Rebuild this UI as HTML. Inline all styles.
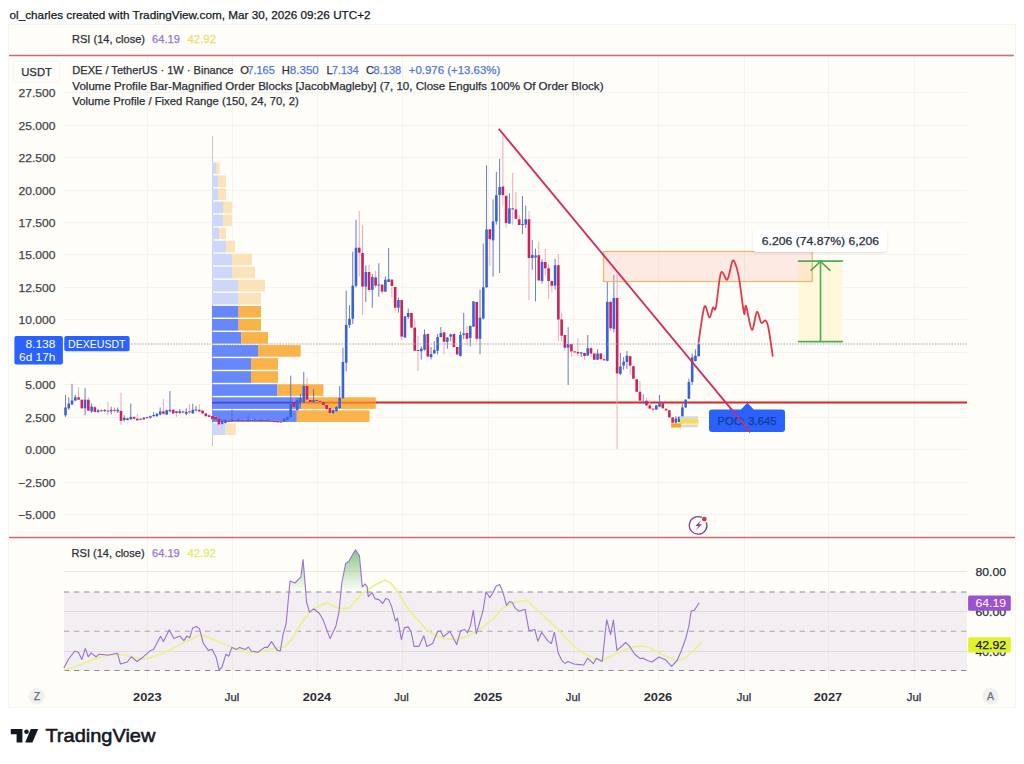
<!DOCTYPE html>
<html><head><meta charset="utf-8"><title>DEXE / TetherUS chart</title>
<style>
html,body{margin:0;padding:0;width:1024px;height:764px;overflow:hidden;background:#ffffff}
svg{display:block}
text{font-family:"Liberation Sans",Arial,sans-serif;paint-order:stroke}
</style></head><body>
<svg width="1024" height="764" viewBox="0 0 1024 764">
<rect x="8" y="24" width="1008" height="684" fill="#fefdf7"/>
<rect x="8.5" y="24.5" width="1007" height="683" fill="none" stroke="#f4f4f0" stroke-width="1"/>
<line x1="64" y1="92.5" x2="967" y2="92.5" stroke="#f4f3ed" stroke-width="1"/>
<line x1="64" y1="125.5" x2="967" y2="125.5" stroke="#f4f3ed" stroke-width="1"/>
<line x1="64" y1="157.5" x2="967" y2="157.5" stroke="#f4f3ed" stroke-width="1"/>
<line x1="64" y1="190.5" x2="967" y2="190.5" stroke="#f4f3ed" stroke-width="1"/>
<line x1="64" y1="222.5" x2="967" y2="222.5" stroke="#f4f3ed" stroke-width="1"/>
<line x1="64" y1="254.5" x2="967" y2="254.5" stroke="#f4f3ed" stroke-width="1"/>
<line x1="64" y1="287.5" x2="967" y2="287.5" stroke="#f4f3ed" stroke-width="1"/>
<line x1="64" y1="319.5" x2="967" y2="319.5" stroke="#f4f3ed" stroke-width="1"/>
<line x1="64" y1="352.5" x2="967" y2="352.5" stroke="#f4f3ed" stroke-width="1"/>
<line x1="64" y1="384.5" x2="967" y2="384.5" stroke="#f4f3ed" stroke-width="1"/>
<line x1="64" y1="417.5" x2="967" y2="417.5" stroke="#f4f3ed" stroke-width="1"/>
<line x1="64" y1="449.5" x2="967" y2="449.5" stroke="#f4f3ed" stroke-width="1"/>
<line x1="64" y1="482.5" x2="967" y2="482.5" stroke="#f4f3ed" stroke-width="1"/>
<line x1="64" y1="514.5" x2="967" y2="514.5" stroke="#f4f3ed" stroke-width="1"/>
<line x1="147.5" y1="56" x2="147.5" y2="537" stroke="#f4f3ed" stroke-width="1"/>
<line x1="147.5" y1="538" x2="147.5" y2="681" stroke="#f4f3ed" stroke-width="1"/>
<line x1="232.5" y1="56" x2="232.5" y2="537" stroke="#f4f3ed" stroke-width="1"/>
<line x1="232.5" y1="538" x2="232.5" y2="681" stroke="#f4f3ed" stroke-width="1"/>
<line x1="317.5" y1="56" x2="317.5" y2="537" stroke="#f4f3ed" stroke-width="1"/>
<line x1="317.5" y1="538" x2="317.5" y2="681" stroke="#f4f3ed" stroke-width="1"/>
<line x1="402.5" y1="56" x2="402.5" y2="537" stroke="#f4f3ed" stroke-width="1"/>
<line x1="402.5" y1="538" x2="402.5" y2="681" stroke="#f4f3ed" stroke-width="1"/>
<line x1="488.5" y1="56" x2="488.5" y2="537" stroke="#f4f3ed" stroke-width="1"/>
<line x1="488.5" y1="538" x2="488.5" y2="681" stroke="#f4f3ed" stroke-width="1"/>
<line x1="573.5" y1="56" x2="573.5" y2="537" stroke="#f4f3ed" stroke-width="1"/>
<line x1="573.5" y1="538" x2="573.5" y2="681" stroke="#f4f3ed" stroke-width="1"/>
<line x1="658.5" y1="56" x2="658.5" y2="537" stroke="#f4f3ed" stroke-width="1"/>
<line x1="658.5" y1="538" x2="658.5" y2="681" stroke="#f4f3ed" stroke-width="1"/>
<line x1="744.5" y1="56" x2="744.5" y2="537" stroke="#f4f3ed" stroke-width="1"/>
<line x1="744.5" y1="538" x2="744.5" y2="681" stroke="#f4f3ed" stroke-width="1"/>
<line x1="828.5" y1="56" x2="828.5" y2="537" stroke="#f4f3ed" stroke-width="1"/>
<line x1="828.5" y1="538" x2="828.5" y2="681" stroke="#f4f3ed" stroke-width="1"/>
<line x1="914.5" y1="56" x2="914.5" y2="537" stroke="#f4f3ed" stroke-width="1"/>
<line x1="914.5" y1="538" x2="914.5" y2="681" stroke="#f4f3ed" stroke-width="1"/>
<line x1="64" y1="571.5" x2="967" y2="571.5" stroke="#ebeae4" stroke-width="1"/>
<line x1="64" y1="611.5" x2="967" y2="611.5" stroke="#ebeae4" stroke-width="1"/>
<line x1="64" y1="651.5" x2="967" y2="651.5" stroke="#ebeae4" stroke-width="1"/>
<rect x="64" y="592" width="903" height="78.5" fill="#7e57c2" fill-opacity="0.09"/>
<line x1="63.9" y1="592" x2="967" y2="592" stroke="#8e8a92" stroke-width="1.1" stroke-dasharray="5.3 4.78"/>
<line x1="63.9" y1="631.2" x2="967" y2="631.2" stroke="#a9a5ad" stroke-width="1.1" stroke-dasharray="5.3 4.78"/>
<line x1="63.9" y1="670.5" x2="967" y2="670.5" stroke="#8e8a92" stroke-width="1.1" stroke-dasharray="5.3 4.78"/>
<defs><linearGradient id="gfill" x1="0" y1="531" x2="0" y2="592" gradientUnits="userSpaceOnUse"><stop offset="0" stop-color="#3d9a46" stop-opacity="0.9"/><stop offset="1" stop-color="#4caf50" stop-opacity="0"/></linearGradient><clipPath id="above70"><rect x="64" y="500" width="903" height="91.8"/></clipPath></defs>
<polygon points="63.8,591.8 63.8,668 68.7,659 74.5,651.3 78.4,652.3 81.8,659.5 85.3,648.4 88.2,656.8 91.1,652.9 96,656.8 99,654.3 104.8,654.8 107.7,655.2 117.5,653.3 120.4,664 127.3,662 131.2,656.8 137,661.5 142.9,657.2 150.7,650.4 153.6,649.4 160.5,636.3 163.4,641.6 169.3,629.8 173.8,638.6 180,636.1 183.9,640.6 186.8,636.1 189.8,637.7 192.7,627.9 196.6,626.5 199.5,628.9 203.4,643.5 208.3,650.4 212.2,649.4 216.1,657.2 219.1,669.9 222,667 225.9,654.3 228.8,656.2 231.8,647.4 236.6,649.4 239.6,647.4 245.4,649.4 248.4,647 251.3,651.3 253.9,651.3 257.8,652.3 264.6,647.4 267.6,647.4 271.5,641.6 277.3,650.4 280.3,651 283.2,633.8 286.1,624 290,581 294.9,583 300.8,577.1 303.1,559.5 306.6,602.5 309.6,612.3 313.5,608.8 319.3,613.2 323.2,620.1 330.1,638.6 335.9,625.9 338.9,612.3 341.8,583 345.7,563.4 348.6,561.5 355.5,549.8 359.4,555.6 362.3,586.9 365.2,584 367.2,586.9 368.2,596.6 372.1,592.7 375,598.6 378.9,599.6 382.8,603.5 385.7,598.6 388.7,599.6 391.6,606.4 395.5,621.1 397.5,618.1 401.4,639.6 404.3,627.9 408.2,626.9 411.1,631.8 414.1,646.4 418.9,646.4 423.8,635.7 426.8,646.4 432.6,643.5 437.5,631.8 440.4,630.8 443.4,636.7 449.9,631.4 456.7,644.5 460.6,630.8 464.5,629.5 467.5,632.8 470.4,625.9 473.3,610.3 476.3,633.8 483.1,610.3 486,591.8 489.9,597.6 492.9,592.7 496.2,585.9 499.7,584.5 502.6,591.2 506.5,605.4 509.5,601.5 512.4,602.5 515.3,608.4 519.2,611.3 525.1,609.3 529,630.8 534.8,629.5 537.8,641.2 541.7,632.2 547.5,640.6 551.4,643.5 554.4,632.2 558.3,653.3 562.2,661.1 565.1,663.4 568,661.5 573.9,664 579.8,664.6 583.7,665 587.6,658.2 593.4,663.6 596.4,658.2 602.2,661.5 606.7,619.7 610.6,634.7 613.4,620.1 616.9,650.4 620.8,647 625.7,642.5 629.6,646.4 634.7,654.2 640.2,658.6 642.6,658.1 647.3,660.5 652,662 655.1,659.7 659,657 661.4,658.1 665.3,659.7 671.6,666.4 677.1,660.5 681.8,649.5 685.7,638.5 688.9,625.9 691.2,611 694.4,610.2 699.1,602.7 699.1,591.8" fill="url(#gfill)" clip-path="url(#above70)"/>
<polyline points="63.8,669.9 74.5,667 94,659.1 109.7,654.3 123.4,654.8 140.9,658.8 148.8,658.2 164.4,652.9 182,643.5 200.5,634.7 211.3,638.6 230.8,647 242.5,650.4 250.3,652.9 261.7,651.3 273.4,648.4 285.2,646.4 293,637.7 300.8,624 308.6,613.2 318.4,606.4 327.1,602.9 334,606.4 339.8,608.4 349.6,608 355.5,600.5 363.3,592.7 375,584.9 384.8,580 390.6,583 398.4,592.7 406.3,606.4 416,618.1 425.8,628.9 435.5,635.7 445.3,638.6 456.7,639.6 468.4,635.7 480.2,628.9 491.9,620.1 503.6,607.4 515.3,602.1 527,600.5 536.8,609.3 550.5,622 562.2,633.8 573.9,646.4 585.6,654.3 595.4,658.8 601.3,660.7 611,656.2 620.8,651.3 632.5,647 642.6,646 650.4,647.9 656.7,651.8 666.1,656.5 677.1,660.5 684.2,658.9 692.8,651.1 701.4,642.4" fill="none" stroke="#ecf095" stroke-width="1.8" stroke-linejoin="round"/>
<polyline points="63.8,668 68.7,659 74.5,651.3 78.4,652.3 81.8,659.5 85.3,648.4 88.2,656.8 91.1,652.9 96,656.8 99,654.3 104.8,654.8 107.7,655.2 117.5,653.3 120.4,664 127.3,662 131.2,656.8 137,661.5 142.9,657.2 150.7,650.4 153.6,649.4 160.5,636.3 163.4,641.6 169.3,629.8 173.8,638.6 180,636.1 183.9,640.6 186.8,636.1 189.8,637.7 192.7,627.9 196.6,626.5 199.5,628.9 203.4,643.5 208.3,650.4 212.2,649.4 216.1,657.2 219.1,669.9 222,667 225.9,654.3 228.8,656.2 231.8,647.4 236.6,649.4 239.6,647.4 245.4,649.4 248.4,647 251.3,651.3 253.9,651.3 257.8,652.3 264.6,647.4 267.6,647.4 271.5,641.6 277.3,650.4 280.3,651 283.2,633.8 286.1,624 290,581 294.9,583 300.8,577.1 303.1,559.5 306.6,602.5 309.6,612.3 313.5,608.8 319.3,613.2 323.2,620.1 330.1,638.6 335.9,625.9 338.9,612.3 341.8,583 345.7,563.4 348.6,561.5 355.5,549.8 359.4,555.6 362.3,586.9 365.2,584 367.2,586.9 368.2,596.6 372.1,592.7 375,598.6 378.9,599.6 382.8,603.5 385.7,598.6 388.7,599.6 391.6,606.4 395.5,621.1 397.5,618.1 401.4,639.6 404.3,627.9 408.2,626.9 411.1,631.8 414.1,646.4 418.9,646.4 423.8,635.7 426.8,646.4 432.6,643.5 437.5,631.8 440.4,630.8 443.4,636.7 449.9,631.4 456.7,644.5 460.6,630.8 464.5,629.5 467.5,632.8 470.4,625.9 473.3,610.3 476.3,633.8 483.1,610.3 486,591.8 489.9,597.6 492.9,592.7 496.2,585.9 499.7,584.5 502.6,591.2 506.5,605.4 509.5,601.5 512.4,602.5 515.3,608.4 519.2,611.3 525.1,609.3 529,630.8 534.8,629.5 537.8,641.2 541.7,632.2 547.5,640.6 551.4,643.5 554.4,632.2 558.3,653.3 562.2,661.1 565.1,663.4 568,661.5 573.9,664 579.8,664.6 583.7,665 587.6,658.2 593.4,663.6 596.4,658.2 602.2,661.5 606.7,619.7 610.6,634.7 613.4,620.1 616.9,650.4 620.8,647 625.7,642.5 629.6,646.4 634.7,654.2 640.2,658.6 642.6,658.1 647.3,660.5 652,662 655.1,659.7 659,657 661.4,658.1 665.3,659.7 671.6,666.4 677.1,660.5 681.8,649.5 685.7,638.5 688.9,625.9 691.2,611 694.4,610.2 699.1,602.7" fill="none" stroke="#9a72cf" stroke-width="1.1" stroke-linejoin="round"/>
<line x1="9" y1="55.5" x2="1013" y2="55.5" stroke="#d06a76" stroke-width="1.3"/>
<line x1="1008" y1="55.5" x2="1014" y2="55.5" stroke="#9a8a8c" stroke-width="1.3"/>
<line x1="9" y1="537.5" x2="1015" y2="537.5" stroke="#d06a76" stroke-width="1.3"/>
<line x1="212.5" y1="136" x2="212.5" y2="446" stroke="#c9c9c9" stroke-width="1"/>
<line x1="212" y1="402.6" x2="967" y2="402.6" stroke="#e02323" stroke-width="2"/>
<rect x="212" y="162.40" width="4.00" height="11.6" fill="#cdd7fa"/>
<rect x="216.00" y="162.40" width="3.60" height="11.6" fill="#fce2b9"/>
<rect x="212" y="175.45" width="6.00" height="11.6" fill="#cdd7fa"/>
<rect x="218.00" y="175.45" width="8.00" height="11.6" fill="#fce2b9"/>
<rect x="212" y="188.50" width="6.00" height="11.6" fill="#cdd7fa"/>
<rect x="218.00" y="188.50" width="8.00" height="11.6" fill="#fce2b9"/>
<rect x="212" y="201.55" width="11.00" height="11.6" fill="#cdd7fa"/>
<rect x="223.00" y="201.55" width="9.00" height="11.6" fill="#fce2b9"/>
<rect x="212" y="214.60" width="11.00" height="11.6" fill="#cdd7fa"/>
<rect x="223.00" y="214.60" width="9.00" height="11.6" fill="#fce2b9"/>
<rect x="212" y="227.65" width="7.00" height="11.6" fill="#cdd7fa"/>
<rect x="219.00" y="227.65" width="7.00" height="11.6" fill="#fce2b9"/>
<rect x="212" y="240.70" width="14.00" height="11.6" fill="#cdd7fa"/>
<rect x="226.00" y="240.70" width="9.00" height="11.6" fill="#fce2b9"/>
<rect x="212" y="253.75" width="20.00" height="11.6" fill="#cdd7fa"/>
<rect x="232.00" y="253.75" width="20.00" height="11.6" fill="#fce2b9"/>
<rect x="212" y="266.80" width="20.00" height="11.6" fill="#cdd7fa"/>
<rect x="232.00" y="266.80" width="23.00" height="11.6" fill="#fce2b9"/>
<rect x="212" y="279.85" width="26.00" height="11.6" fill="#cdd7fa"/>
<rect x="238.00" y="279.85" width="27.00" height="11.6" fill="#fce2b9"/>
<rect x="212" y="292.90" width="26.60" height="11.6" fill="#cdd7fa"/>
<rect x="238.60" y="292.90" width="22.40" height="11.6" fill="#fce2b9"/>
<rect x="212" y="305.95" width="26.60" height="11.6" fill="#6688fa"/>
<rect x="238.60" y="305.95" width="22.40" height="11.6" fill="#fab24b"/>
<rect x="212" y="319.00" width="26.60" height="11.6" fill="#6688fa"/>
<rect x="238.60" y="319.00" width="22.40" height="11.6" fill="#fab24b"/>
<rect x="212" y="332.05" width="29.30" height="11.6" fill="#6688fa"/>
<rect x="241.30" y="332.05" width="26.70" height="11.6" fill="#fab24b"/>
<rect x="212" y="345.10" width="46.00" height="11.6" fill="#6688fa"/>
<rect x="258.00" y="345.10" width="42.60" height="11.6" fill="#fab24b"/>
<rect x="212" y="358.15" width="39.00" height="11.6" fill="#6688fa"/>
<rect x="251.00" y="358.15" width="27.00" height="11.6" fill="#fab24b"/>
<rect x="212" y="371.20" width="39.00" height="11.6" fill="#6688fa"/>
<rect x="251.00" y="371.20" width="27.00" height="11.6" fill="#fab24b"/>
<rect x="212" y="384.25" width="65.50" height="11.6" fill="#6688fa"/>
<rect x="277.50" y="384.25" width="45.90" height="11.6" fill="#fab24b"/>
<rect x="212" y="397.30" width="89.00" height="11.6" fill="#6688fa"/>
<rect x="301.00" y="397.30" width="74.80" height="11.6" fill="#fab24b"/>
<rect x="212" y="410.35" width="84.80" height="11.6" fill="#6688fa"/>
<rect x="296.80" y="410.35" width="72.70" height="11.6" fill="#fab24b"/>
<rect x="212" y="423.40" width="13.60" height="11.6" fill="#cdd7fa"/>
<rect x="225.60" y="423.40" width="10.10" height="11.6" fill="#fce2b9"/>
<line x1="212" y1="402.6" x2="301" y2="402.6" stroke="#4a3fc4" stroke-width="1.6" opacity="0.85"/>
<line x1="301" y1="402.6" x2="376" y2="402.6" stroke="#ee6a2a" stroke-width="1.6" opacity="0.9"/>
<line x1="65.50" y1="395.0" x2="65.50" y2="416.9" stroke="#5a71b4" stroke-width="0.9"/>
<rect x="64.20" y="407.5" width="2.6" height="7.80" fill="#3862da"/>
<line x1="68.76" y1="397.3" x2="68.76" y2="409.8" stroke="#5a71b4" stroke-width="0.9"/>
<rect x="67.46" y="403.6" width="2.6" height="4.70" fill="#3862da"/>
<line x1="72.03" y1="383.75" x2="72.03" y2="405.2" stroke="#5a71b4" stroke-width="0.9"/>
<rect x="70.73" y="400.5" width="2.6" height="3.90" fill="#3862da"/>
<line x1="75.29" y1="395.0" x2="75.29" y2="401.3" stroke="#5a71b4" stroke-width="0.9"/>
<rect x="73.99" y="397.3" width="2.6" height="3.20" fill="#3862da"/>
<line x1="78.56" y1="387.2" x2="78.56" y2="399.7" stroke="#e9a3b9" stroke-width="0.9"/>
<rect x="77.26" y="397.3" width="2.6" height="2.40" fill="#cc215b"/>
<line x1="81.82" y1="399.7" x2="81.82" y2="409.0" stroke="#e9a3b9" stroke-width="0.9"/>
<rect x="80.52" y="399.7" width="2.6" height="8.60" fill="#cc215b"/>
<line x1="85.08" y1="388.0" x2="85.08" y2="415.3" stroke="#5a71b4" stroke-width="0.9"/>
<rect x="83.78" y="399.7" width="2.6" height="8.60" fill="#3862da"/>
<line x1="88.35" y1="397.3" x2="88.35" y2="411.4" stroke="#e9a3b9" stroke-width="0.9"/>
<rect x="87.05" y="399.7" width="2.6" height="10.90" fill="#cc215b"/>
<line x1="91.61" y1="403.6" x2="91.61" y2="413.0" stroke="#5a71b4" stroke-width="0.9"/>
<rect x="90.31" y="406.7" width="2.6" height="4.70" fill="#3862da"/>
<line x1="94.88" y1="406.0" x2="94.88" y2="412.5" stroke="#e9a3b9" stroke-width="0.9"/>
<rect x="93.58" y="407.2" width="2.6" height="4.70" fill="#cc215b"/>
<line x1="98.14" y1="409.0" x2="98.14" y2="413.0" stroke="#5a71b4" stroke-width="0.9"/>
<rect x="96.84" y="410.3" width="2.6" height="1.60" fill="#3862da"/>
<line x1="101.40" y1="409.5" x2="101.40" y2="412.0" stroke="#e9a3b9" stroke-width="0.9"/>
<rect x="100.10" y="410.3" width="2.6" height="1.00" fill="#cc215b"/>
<line x1="104.67" y1="409.0" x2="104.67" y2="412.0" stroke="#5a71b4" stroke-width="0.9"/>
<rect x="103.37" y="410.0" width="2.6" height="1.00" fill="#3862da"/>
<line x1="107.93" y1="402.0" x2="107.93" y2="415.3" stroke="#e9a3b9" stroke-width="0.9"/>
<rect x="106.63" y="410.6" width="2.6" height="1.00" fill="#cc215b"/>
<line x1="111.20" y1="406.7" x2="111.20" y2="414.5" stroke="#5a71b4" stroke-width="0.9"/>
<rect x="109.90" y="409.8" width="2.6" height="1.60" fill="#3862da"/>
<line x1="114.46" y1="407.5" x2="114.46" y2="413.0" stroke="#e9a3b9" stroke-width="0.9"/>
<rect x="113.16" y="409.8" width="2.6" height="1.00" fill="#cc215b"/>
<line x1="117.72" y1="407.5" x2="117.72" y2="413.0" stroke="#5a71b4" stroke-width="0.9"/>
<rect x="116.42" y="409.8" width="2.6" height="1.60" fill="#3862da"/>
<line x1="120.99" y1="392.7" x2="120.99" y2="424.7" stroke="#e9a3b9" stroke-width="0.9"/>
<rect x="119.69" y="410.9" width="2.6" height="9.90" fill="#cc215b"/>
<line x1="124.25" y1="415.3" x2="124.25" y2="421.6" stroke="#5a71b4" stroke-width="0.9"/>
<rect x="122.95" y="417.7" width="2.6" height="2.30" fill="#3862da"/>
<line x1="127.52" y1="417.5" x2="127.52" y2="421.0" stroke="#e9a3b9" stroke-width="0.9"/>
<rect x="126.22" y="418.4" width="2.6" height="1.60" fill="#cc215b"/>
<line x1="130.78" y1="403.6" x2="130.78" y2="420.0" stroke="#5a71b4" stroke-width="0.9"/>
<rect x="129.48" y="416.9" width="2.6" height="2.30" fill="#3862da"/>
<line x1="134.04" y1="416.0" x2="134.04" y2="419.5" stroke="#e9a3b9" stroke-width="0.9"/>
<rect x="132.74" y="416.9" width="2.6" height="1.85" fill="#cc215b"/>
<line x1="137.31" y1="413.75" x2="137.31" y2="420.8" stroke="#e9a3b9" stroke-width="0.9"/>
<rect x="136.01" y="418.75" width="2.6" height="1.55" fill="#cc215b"/>
<line x1="140.57" y1="418.0" x2="140.57" y2="420.5" stroke="#e9a3b9" stroke-width="0.9"/>
<rect x="139.27" y="418.75" width="2.6" height="1.00" fill="#cc215b"/>
<line x1="143.84" y1="417.0" x2="143.84" y2="420.0" stroke="#5a71b4" stroke-width="0.9"/>
<rect x="142.54" y="417.7" width="2.6" height="1.50" fill="#3862da"/>
<line x1="147.10" y1="416.5" x2="147.10" y2="419.0" stroke="#e9a3b9" stroke-width="0.9"/>
<rect x="145.80" y="417.2" width="2.6" height="1.00" fill="#cc215b"/>
<line x1="150.36" y1="415.5" x2="150.36" y2="418.5" stroke="#5a71b4" stroke-width="0.9"/>
<rect x="149.06" y="416.1" width="2.6" height="1.60" fill="#3862da"/>
<line x1="153.63" y1="412.2" x2="153.63" y2="416.9" stroke="#5a71b4" stroke-width="0.9"/>
<rect x="152.33" y="415.0" width="2.6" height="1.10" fill="#3862da"/>
<line x1="156.89" y1="413.0" x2="156.89" y2="417.0" stroke="#5a71b4" stroke-width="0.9"/>
<rect x="155.59" y="413.75" width="2.6" height="2.35" fill="#3862da"/>
<line x1="160.16" y1="407.5" x2="160.16" y2="415.3" stroke="#5a71b4" stroke-width="0.9"/>
<rect x="158.86" y="411.4" width="2.6" height="3.10" fill="#3862da"/>
<line x1="163.42" y1="398.9" x2="163.42" y2="414.5" stroke="#e9a3b9" stroke-width="0.9"/>
<rect x="162.12" y="411.4" width="2.6" height="2.35" fill="#cc215b"/>
<line x1="166.68" y1="409.5" x2="166.68" y2="415.0" stroke="#5a71b4" stroke-width="0.9"/>
<rect x="165.38" y="410.3" width="2.6" height="4.20" fill="#3862da"/>
<line x1="169.95" y1="391.0" x2="169.95" y2="412.2" stroke="#5a71b4" stroke-width="0.9"/>
<rect x="168.65" y="409.8" width="2.6" height="1.60" fill="#3862da"/>
<line x1="173.21" y1="409.0" x2="173.21" y2="414.0" stroke="#e9a3b9" stroke-width="0.9"/>
<rect x="171.91" y="409.8" width="2.6" height="3.60" fill="#cc215b"/>
<line x1="176.48" y1="410.6" x2="176.48" y2="416.9" stroke="#e9a3b9" stroke-width="0.9"/>
<rect x="175.18" y="411.4" width="2.6" height="1.60" fill="#cc215b"/>
<line x1="179.74" y1="409.0" x2="179.74" y2="414.0" stroke="#5a71b4" stroke-width="0.9"/>
<rect x="178.44" y="411.4" width="2.6" height="1.60" fill="#3862da"/>
<line x1="183.00" y1="410.5" x2="183.00" y2="413.5" stroke="#e9a3b9" stroke-width="0.9"/>
<rect x="181.70" y="411.4" width="2.6" height="1.10" fill="#cc215b"/>
<line x1="186.27" y1="408.3" x2="186.27" y2="415.3" stroke="#5a71b4" stroke-width="0.9"/>
<rect x="184.97" y="411.9" width="2.6" height="1.85" fill="#3862da"/>
<line x1="189.53" y1="403.6" x2="189.53" y2="413.75" stroke="#e9a3b9" stroke-width="0.9"/>
<rect x="188.23" y="411.4" width="2.6" height="1.00" fill="#cc215b"/>
<line x1="192.80" y1="403.6" x2="192.80" y2="413.75" stroke="#5a71b4" stroke-width="0.9"/>
<rect x="191.50" y="409.8" width="2.6" height="3.60" fill="#3862da"/>
<line x1="196.06" y1="405.9" x2="196.06" y2="411.4" stroke="#5a71b4" stroke-width="0.9"/>
<rect x="194.76" y="409.4" width="2.6" height="1.00" fill="#3862da"/>
<line x1="199.32" y1="404.4" x2="199.32" y2="412.2" stroke="#e9a3b9" stroke-width="0.9"/>
<rect x="198.02" y="409.8" width="2.6" height="1.60" fill="#cc215b"/>
<line x1="202.59" y1="410.0" x2="202.59" y2="414.0" stroke="#e9a3b9" stroke-width="0.9"/>
<rect x="201.29" y="410.6" width="2.6" height="2.80" fill="#cc215b"/>
<line x1="205.85" y1="413.0" x2="205.85" y2="417.0" stroke="#e9a3b9" stroke-width="0.9"/>
<rect x="204.55" y="413.4" width="2.6" height="2.70" fill="#cc215b"/>
<line x1="209.12" y1="414.5" x2="209.12" y2="417.5" stroke="#e9a3b9" stroke-width="0.9"/>
<rect x="207.82" y="415.3" width="2.6" height="1.60" fill="#cc215b"/>
<line x1="212.38" y1="415.5" x2="212.38" y2="420.0" stroke="#e9a3b9" stroke-width="0.9"/>
<rect x="211.08" y="416.1" width="2.6" height="3.10" fill="#cc215b"/>
<line x1="215.64" y1="416.0" x2="215.64" y2="420.5" stroke="#e9a3b9" stroke-width="0.9"/>
<rect x="214.34" y="417.0" width="2.6" height="2.70" fill="#cc215b"/>
<line x1="218.91" y1="418.0" x2="218.91" y2="425.0" stroke="#e9a3b9" stroke-width="0.9"/>
<rect x="217.61" y="418.6" width="2.6" height="5.80" fill="#cc215b"/>
<line x1="222.17" y1="419.5" x2="222.17" y2="424.5" stroke="#5a71b4" stroke-width="0.9"/>
<rect x="220.87" y="420.5" width="2.6" height="3.40" fill="#3862da"/>
<line x1="225.44" y1="419.0" x2="225.44" y2="423.5" stroke="#5a71b4" stroke-width="0.9"/>
<rect x="224.14" y="420.0" width="2.6" height="3.00" fill="#3862da"/>
<line x1="228.70" y1="420.0" x2="228.70" y2="422.5" stroke="#e9a3b9" stroke-width="0.9"/>
<rect x="227.40" y="420.5" width="2.6" height="1.30" fill="#cc215b"/>
<line x1="231.96" y1="409.7" x2="231.96" y2="421.8" stroke="#5a71b4" stroke-width="0.9"/>
<rect x="230.66" y="419.5" width="2.6" height="1.50" fill="#3862da"/>
<line x1="235.23" y1="419.0" x2="235.23" y2="421.8" stroke="#e9a3b9" stroke-width="0.9"/>
<rect x="233.93" y="419.8" width="2.6" height="1.20" fill="#cc215b"/>
<line x1="238.49" y1="418.5" x2="238.49" y2="421.5" stroke="#5a71b4" stroke-width="0.9"/>
<rect x="237.19" y="419.5" width="2.6" height="1.30" fill="#3862da"/>
<line x1="241.76" y1="419.5" x2="241.76" y2="421.5" stroke="#e9a3b9" stroke-width="0.9"/>
<rect x="240.46" y="420.0" width="2.6" height="1.00" fill="#cc215b"/>
<line x1="245.02" y1="419.5" x2="245.02" y2="422.0" stroke="#e9a3b9" stroke-width="0.9"/>
<rect x="243.72" y="420.2" width="2.6" height="1.00" fill="#cc215b"/>
<line x1="248.28" y1="415.0" x2="248.28" y2="421.5" stroke="#5a71b4" stroke-width="0.9"/>
<rect x="246.98" y="419.8" width="2.6" height="1.00" fill="#3862da"/>
<line x1="251.55" y1="419.0" x2="251.55" y2="422.0" stroke="#e9a3b9" stroke-width="0.9"/>
<rect x="250.25" y="420.0" width="2.6" height="1.00" fill="#cc215b"/>
<line x1="254.81" y1="419.0" x2="254.81" y2="421.0" stroke="#5a71b4" stroke-width="0.9"/>
<rect x="253.51" y="419.5" width="2.6" height="1.00" fill="#3862da"/>
<line x1="258.08" y1="419.5" x2="258.08" y2="421.8" stroke="#e9a3b9" stroke-width="0.9"/>
<rect x="256.78" y="420.0" width="2.6" height="1.00" fill="#cc215b"/>
<line x1="261.34" y1="419.0" x2="261.34" y2="421.5" stroke="#5a71b4" stroke-width="0.9"/>
<rect x="260.04" y="419.8" width="2.6" height="1.00" fill="#3862da"/>
<line x1="264.60" y1="419.5" x2="264.60" y2="421.8" stroke="#e9a3b9" stroke-width="0.9"/>
<rect x="263.30" y="420.0" width="2.6" height="1.20" fill="#cc215b"/>
<line x1="267.87" y1="419.0" x2="267.87" y2="421.5" stroke="#5a71b4" stroke-width="0.9"/>
<rect x="266.57" y="419.8" width="2.6" height="1.00" fill="#3862da"/>
<line x1="271.13" y1="420.0" x2="271.13" y2="422.0" stroke="#e9a3b9" stroke-width="0.9"/>
<rect x="269.83" y="420.5" width="2.6" height="1.00" fill="#cc215b"/>
<line x1="274.40" y1="420.5" x2="274.40" y2="422.5" stroke="#e9a3b9" stroke-width="0.9"/>
<rect x="273.10" y="421.0" width="2.6" height="1.00" fill="#cc215b"/>
<line x1="277.66" y1="420.5" x2="277.66" y2="423.0" stroke="#e9a3b9" stroke-width="0.9"/>
<rect x="276.36" y="421.3" width="2.6" height="1.00" fill="#cc215b"/>
<line x1="280.92" y1="421.0" x2="280.92" y2="423.0" stroke="#e9a3b9" stroke-width="0.9"/>
<rect x="279.62" y="421.5" width="2.6" height="1.00" fill="#cc215b"/>
<line x1="284.19" y1="418.0" x2="284.19" y2="422.0" stroke="#5a71b4" stroke-width="0.9"/>
<rect x="282.89" y="418.6" width="2.6" height="2.90" fill="#3862da"/>
<line x1="287.45" y1="416.5" x2="287.45" y2="420.5" stroke="#5a71b4" stroke-width="0.9"/>
<rect x="286.15" y="417.0" width="2.6" height="3.00" fill="#3862da"/>
<line x1="290.72" y1="375.7" x2="290.72" y2="418.0" stroke="#5a71b4" stroke-width="0.9"/>
<rect x="289.42" y="401.9" width="2.6" height="15.10" fill="#3862da"/>
<line x1="293.98" y1="396.0" x2="293.98" y2="410.0" stroke="#e9a3b9" stroke-width="0.9"/>
<rect x="292.68" y="402.0" width="2.6" height="5.00" fill="#cc215b"/>
<line x1="297.24" y1="398.0" x2="297.24" y2="411.0" stroke="#5a71b4" stroke-width="0.9"/>
<rect x="295.94" y="400.0" width="2.6" height="10.00" fill="#3862da"/>
<line x1="300.51" y1="394.0" x2="300.51" y2="405.0" stroke="#5a71b4" stroke-width="0.9"/>
<rect x="299.21" y="398.0" width="2.6" height="4.00" fill="#3862da"/>
<line x1="303.77" y1="371.8" x2="303.77" y2="403.0" stroke="#5a71b4" stroke-width="0.9"/>
<rect x="302.47" y="386.0" width="2.6" height="16.40" fill="#3862da"/>
<line x1="307.04" y1="378.0" x2="307.04" y2="400.0" stroke="#e9a3b9" stroke-width="0.9"/>
<rect x="305.74" y="386.0" width="2.6" height="13.60" fill="#cc215b"/>
<line x1="310.30" y1="399.0" x2="310.30" y2="403.0" stroke="#e9a3b9" stroke-width="0.9"/>
<rect x="309.00" y="400.0" width="2.6" height="2.00" fill="#cc215b"/>
<line x1="313.56" y1="389.0" x2="313.56" y2="403.0" stroke="#5a71b4" stroke-width="0.9"/>
<rect x="312.26" y="400.0" width="2.6" height="2.00" fill="#3862da"/>
<line x1="316.83" y1="399.0" x2="316.83" y2="402.0" stroke="#e9a3b9" stroke-width="0.9"/>
<rect x="315.53" y="400.0" width="2.6" height="1.00" fill="#cc215b"/>
<line x1="320.09" y1="400.0" x2="320.09" y2="403.0" stroke="#e9a3b9" stroke-width="0.9"/>
<rect x="318.79" y="401.0" width="2.6" height="1.00" fill="#cc215b"/>
<line x1="323.36" y1="401.0" x2="323.36" y2="406.0" stroke="#e9a3b9" stroke-width="0.9"/>
<rect x="322.06" y="402.0" width="2.6" height="3.00" fill="#cc215b"/>
<line x1="326.62" y1="404.0" x2="326.62" y2="410.0" stroke="#e9a3b9" stroke-width="0.9"/>
<rect x="325.32" y="405.0" width="2.6" height="4.00" fill="#cc215b"/>
<line x1="329.88" y1="407.0" x2="329.88" y2="414.0" stroke="#e9a3b9" stroke-width="0.9"/>
<rect x="328.58" y="408.0" width="2.6" height="5.00" fill="#cc215b"/>
<line x1="333.15" y1="409.0" x2="333.15" y2="414.0" stroke="#5a71b4" stroke-width="0.9"/>
<rect x="331.85" y="410.0" width="2.6" height="3.00" fill="#3862da"/>
<line x1="336.41" y1="406.0" x2="336.41" y2="412.0" stroke="#5a71b4" stroke-width="0.9"/>
<rect x="335.11" y="407.0" width="2.6" height="4.00" fill="#3862da"/>
<line x1="339.68" y1="386.0" x2="339.68" y2="409.0" stroke="#5a71b4" stroke-width="0.9"/>
<rect x="338.38" y="398.0" width="2.6" height="10.00" fill="#3862da"/>
<line x1="342.94" y1="347.6" x2="342.94" y2="399.0" stroke="#5a71b4" stroke-width="0.9"/>
<rect x="341.64" y="362.0" width="2.6" height="36.00" fill="#3862da"/>
<line x1="346.20" y1="290.7" x2="346.20" y2="371.4" stroke="#5a71b4" stroke-width="0.9"/>
<rect x="344.90" y="325.0" width="2.6" height="37.70" fill="#3862da"/>
<line x1="349.47" y1="305.0" x2="349.47" y2="328.0" stroke="#5a71b4" stroke-width="0.9"/>
<rect x="348.17" y="318.7" width="2.6" height="6.30" fill="#3862da"/>
<line x1="352.73" y1="251.8" x2="352.73" y2="324.0" stroke="#5a71b4" stroke-width="0.9"/>
<rect x="351.43" y="285.7" width="2.6" height="33.00" fill="#3862da"/>
<line x1="356.00" y1="219.7" x2="356.00" y2="287.5" stroke="#5a71b4" stroke-width="0.9"/>
<rect x="354.70" y="247.7" width="2.6" height="38.00" fill="#3862da"/>
<line x1="359.26" y1="211.0" x2="359.26" y2="276.5" stroke="#e9a3b9" stroke-width="0.9"/>
<rect x="357.96" y="247.7" width="2.6" height="5.00" fill="#cc215b"/>
<line x1="362.52" y1="225.2" x2="362.52" y2="315.0" stroke="#e9a3b9" stroke-width="0.9"/>
<rect x="361.22" y="253.0" width="2.6" height="33.60" fill="#cc215b"/>
<line x1="365.79" y1="265.5" x2="365.79" y2="302.0" stroke="#5a71b4" stroke-width="0.9"/>
<rect x="364.49" y="272.0" width="2.6" height="14.60" fill="#3862da"/>
<line x1="369.05" y1="264.6" x2="369.05" y2="292.0" stroke="#e9a3b9" stroke-width="0.9"/>
<rect x="367.75" y="272.0" width="2.6" height="18.00" fill="#cc215b"/>
<line x1="372.32" y1="274.0" x2="372.32" y2="307.7" stroke="#5a71b4" stroke-width="0.9"/>
<rect x="371.02" y="277.0" width="2.6" height="12.80" fill="#3862da"/>
<line x1="375.58" y1="271.0" x2="375.58" y2="288.0" stroke="#e9a3b9" stroke-width="0.9"/>
<rect x="374.28" y="277.4" width="2.6" height="8.30" fill="#cc215b"/>
<line x1="378.84" y1="263.2" x2="378.84" y2="296.7" stroke="#5a71b4" stroke-width="0.9"/>
<rect x="377.54" y="284.5" width="2.6" height="1.00" fill="#3862da"/>
<line x1="382.11" y1="284.0" x2="382.11" y2="294.0" stroke="#e9a3b9" stroke-width="0.9"/>
<rect x="380.81" y="284.7" width="2.6" height="6.90" fill="#cc215b"/>
<line x1="385.37" y1="276.5" x2="385.37" y2="292.0" stroke="#5a71b4" stroke-width="0.9"/>
<rect x="384.07" y="279.7" width="2.6" height="11.90" fill="#3862da"/>
<line x1="388.64" y1="248.0" x2="388.64" y2="282.0" stroke="#5a71b4" stroke-width="0.9"/>
<rect x="387.34" y="279.2" width="2.6" height="2.80" fill="#3862da"/>
<line x1="391.90" y1="279.0" x2="391.90" y2="297.6" stroke="#e9a3b9" stroke-width="0.9"/>
<rect x="390.60" y="279.7" width="2.6" height="6.30" fill="#cc215b"/>
<line x1="395.16" y1="287.0" x2="395.16" y2="311.0" stroke="#e9a3b9" stroke-width="0.9"/>
<rect x="393.86" y="287.0" width="2.6" height="20.70" fill="#cc215b"/>
<line x1="398.43" y1="297.6" x2="398.43" y2="312.7" stroke="#5a71b4" stroke-width="0.9"/>
<rect x="397.13" y="300.0" width="2.6" height="7.70" fill="#3862da"/>
<line x1="401.69" y1="300.0" x2="401.69" y2="340.0" stroke="#e9a3b9" stroke-width="0.9"/>
<rect x="400.39" y="300.0" width="2.6" height="36.60" fill="#cc215b"/>
<line x1="404.96" y1="316.0" x2="404.96" y2="338.0" stroke="#5a71b4" stroke-width="0.9"/>
<rect x="403.66" y="316.4" width="2.6" height="21.10" fill="#3862da"/>
<line x1="408.22" y1="308.6" x2="408.22" y2="319.0" stroke="#5a71b4" stroke-width="0.9"/>
<rect x="406.92" y="313.0" width="2.6" height="4.00" fill="#3862da"/>
<line x1="411.48" y1="312.5" x2="411.48" y2="328.0" stroke="#e9a3b9" stroke-width="0.9"/>
<rect x="410.18" y="313.0" width="2.6" height="14.60" fill="#cc215b"/>
<line x1="414.75" y1="319.3" x2="414.75" y2="351.0" stroke="#e9a3b9" stroke-width="0.9"/>
<rect x="413.45" y="327.6" width="2.6" height="23.10" fill="#cc215b"/>
<line x1="418.01" y1="336.0" x2="418.01" y2="371.0" stroke="#e9a3b9" stroke-width="0.9"/>
<rect x="416.71" y="350.0" width="2.6" height="1.00" fill="#cc215b"/>
<line x1="421.28" y1="346.5" x2="421.28" y2="359.6" stroke="#5a71b4" stroke-width="0.9"/>
<rect x="419.98" y="348.6" width="2.6" height="2.70" fill="#3862da"/>
<line x1="424.54" y1="329.3" x2="424.54" y2="350.5" stroke="#5a71b4" stroke-width="0.9"/>
<rect x="423.24" y="334.5" width="2.6" height="15.20" fill="#3862da"/>
<line x1="427.80" y1="333.5" x2="427.80" y2="357.0" stroke="#e9a3b9" stroke-width="0.9"/>
<rect x="426.50" y="334.0" width="2.6" height="22.50" fill="#cc215b"/>
<line x1="431.07" y1="347.0" x2="431.07" y2="359.6" stroke="#5a71b4" stroke-width="0.9"/>
<rect x="429.77" y="354.0" width="2.6" height="3.00" fill="#3862da"/>
<line x1="434.33" y1="341.3" x2="434.33" y2="354.0" stroke="#5a71b4" stroke-width="0.9"/>
<rect x="433.03" y="350.0" width="2.6" height="3.40" fill="#3862da"/>
<line x1="437.60" y1="334.0" x2="437.60" y2="354.4" stroke="#5a71b4" stroke-width="0.9"/>
<rect x="436.30" y="337.0" width="2.6" height="13.70" fill="#3862da"/>
<line x1="440.86" y1="327.0" x2="440.86" y2="337.5" stroke="#5a71b4" stroke-width="0.9"/>
<rect x="439.56" y="333.0" width="2.6" height="4.00" fill="#3862da"/>
<line x1="444.12" y1="332.0" x2="444.12" y2="354.4" stroke="#e9a3b9" stroke-width="0.9"/>
<rect x="442.82" y="332.4" width="2.6" height="9.40" fill="#cc215b"/>
<line x1="447.39" y1="337.0" x2="447.39" y2="348.6" stroke="#5a71b4" stroke-width="0.9"/>
<rect x="446.09" y="337.6" width="2.6" height="4.20" fill="#3862da"/>
<line x1="450.65" y1="333.5" x2="450.65" y2="341.3" stroke="#5a71b4" stroke-width="0.9"/>
<rect x="449.35" y="334.5" width="2.6" height="2.10" fill="#3862da"/>
<line x1="453.92" y1="333.5" x2="453.92" y2="347.5" stroke="#e9a3b9" stroke-width="0.9"/>
<rect x="452.62" y="334.0" width="2.6" height="13.00" fill="#cc215b"/>
<line x1="457.18" y1="346.5" x2="457.18" y2="355.0" stroke="#e9a3b9" stroke-width="0.9"/>
<rect x="455.88" y="347.0" width="2.6" height="7.40" fill="#cc215b"/>
<line x1="460.44" y1="331.4" x2="460.44" y2="356.5" stroke="#5a71b4" stroke-width="0.9"/>
<rect x="459.14" y="335.0" width="2.6" height="21.00" fill="#3862da"/>
<line x1="463.71" y1="313.0" x2="463.71" y2="339.2" stroke="#5a71b4" stroke-width="0.9"/>
<rect x="462.41" y="333.5" width="2.6" height="1.50" fill="#3862da"/>
<line x1="466.97" y1="326.0" x2="466.97" y2="345.5" stroke="#e9a3b9" stroke-width="0.9"/>
<rect x="465.67" y="333.0" width="2.6" height="5.70" fill="#cc215b"/>
<line x1="470.24" y1="325.5" x2="470.24" y2="346.5" stroke="#5a71b4" stroke-width="0.9"/>
<rect x="468.94" y="326.0" width="2.6" height="12.00" fill="#3862da"/>
<line x1="473.50" y1="301.0" x2="473.50" y2="327.0" stroke="#5a71b4" stroke-width="0.9"/>
<rect x="472.20" y="301.5" width="2.6" height="25.10" fill="#3862da"/>
<line x1="476.76" y1="301.5" x2="476.76" y2="342.4" stroke="#e9a3b9" stroke-width="0.9"/>
<rect x="475.46" y="302.0" width="2.6" height="36.70" fill="#cc215b"/>
<line x1="480.03" y1="290.0" x2="480.03" y2="354.4" stroke="#5a71b4" stroke-width="0.9"/>
<rect x="478.73" y="317.7" width="2.6" height="21.00" fill="#3862da"/>
<line x1="483.29" y1="243.6" x2="483.29" y2="319.5" stroke="#5a71b4" stroke-width="0.9"/>
<rect x="481.99" y="287.3" width="2.6" height="31.20" fill="#3862da"/>
<line x1="486.56" y1="165.5" x2="486.56" y2="287.8" stroke="#5a71b4" stroke-width="0.9"/>
<rect x="485.26" y="229.5" width="2.6" height="57.80" fill="#3862da"/>
<line x1="489.82" y1="229.0" x2="489.82" y2="266.0" stroke="#e9a3b9" stroke-width="0.9"/>
<rect x="488.52" y="229.3" width="2.6" height="9.90" fill="#cc215b"/>
<line x1="493.08" y1="199.4" x2="493.08" y2="276.7" stroke="#5a71b4" stroke-width="0.9"/>
<rect x="491.78" y="221.4" width="2.6" height="18.90" fill="#3862da"/>
<line x1="496.35" y1="171.8" x2="496.35" y2="224.6" stroke="#5a71b4" stroke-width="0.9"/>
<rect x="495.05" y="195.2" width="2.6" height="26.20" fill="#3862da"/>
<line x1="499.61" y1="158.7" x2="499.61" y2="273.0" stroke="#5a71b4" stroke-width="0.9"/>
<rect x="498.31" y="187.0" width="2.6" height="8.00" fill="#3862da"/>
<line x1="502.88" y1="135.7" x2="502.88" y2="205.7" stroke="#e9a3b9" stroke-width="0.9"/>
<rect x="501.58" y="186.5" width="2.6" height="8.70" fill="#cc215b"/>
<line x1="506.14" y1="195.5" x2="506.14" y2="227.7" stroke="#e9a3b9" stroke-width="0.9"/>
<rect x="504.84" y="195.8" width="2.6" height="27.20" fill="#cc215b"/>
<line x1="509.40" y1="193.3" x2="509.40" y2="224.0" stroke="#5a71b4" stroke-width="0.9"/>
<rect x="508.10" y="208.3" width="2.6" height="15.20" fill="#3862da"/>
<line x1="512.67" y1="172.9" x2="512.67" y2="224.6" stroke="#e9a3b9" stroke-width="0.9"/>
<rect x="511.37" y="208.3" width="2.6" height="1.10" fill="#cc215b"/>
<line x1="515.93" y1="192.0" x2="515.93" y2="219.5" stroke="#e9a3b9" stroke-width="0.9"/>
<rect x="514.63" y="209.4" width="2.6" height="9.40" fill="#cc215b"/>
<line x1="519.20" y1="215.0" x2="519.20" y2="225.5" stroke="#e9a3b9" stroke-width="0.9"/>
<rect x="517.90" y="219.3" width="2.6" height="5.70" fill="#cc215b"/>
<line x1="522.46" y1="196.0" x2="522.46" y2="234.0" stroke="#5a71b4" stroke-width="0.9"/>
<rect x="521.16" y="224.0" width="2.6" height="1.00" fill="#3862da"/>
<line x1="525.72" y1="205.7" x2="525.72" y2="228.0" stroke="#5a71b4" stroke-width="0.9"/>
<rect x="524.42" y="219.3" width="2.6" height="5.30" fill="#3862da"/>
<line x1="528.99" y1="211.0" x2="528.99" y2="300.0" stroke="#e9a3b9" stroke-width="0.9"/>
<rect x="527.69" y="219.3" width="2.6" height="38.70" fill="#cc215b"/>
<line x1="532.25" y1="240.0" x2="532.25" y2="270.0" stroke="#5a71b4" stroke-width="0.9"/>
<rect x="530.95" y="255.0" width="2.6" height="3.00" fill="#3862da"/>
<line x1="535.52" y1="248.6" x2="535.52" y2="301.3" stroke="#5a71b4" stroke-width="0.9"/>
<rect x="534.22" y="255.4" width="2.6" height="2.10" fill="#3862da"/>
<line x1="538.78" y1="241.8" x2="538.78" y2="281.0" stroke="#e9a3b9" stroke-width="0.9"/>
<rect x="537.48" y="255.2" width="2.6" height="25.20" fill="#cc215b"/>
<line x1="542.04" y1="259.4" x2="542.04" y2="283.5" stroke="#5a71b4" stroke-width="0.9"/>
<rect x="540.74" y="262.0" width="2.6" height="19.00" fill="#3862da"/>
<line x1="545.31" y1="249.0" x2="545.31" y2="276.0" stroke="#e9a3b9" stroke-width="0.9"/>
<rect x="544.01" y="262.0" width="2.6" height="6.30" fill="#cc215b"/>
<line x1="548.57" y1="263.6" x2="548.57" y2="298.7" stroke="#e9a3b9" stroke-width="0.9"/>
<rect x="547.27" y="268.3" width="2.6" height="12.70" fill="#cc215b"/>
<line x1="551.84" y1="280.5" x2="551.84" y2="292.4" stroke="#e9a3b9" stroke-width="0.9"/>
<rect x="550.54" y="281.0" width="2.6" height="4.60" fill="#cc215b"/>
<line x1="555.10" y1="258.9" x2="555.10" y2="289.8" stroke="#5a71b4" stroke-width="0.9"/>
<rect x="553.80" y="265.2" width="2.6" height="20.40" fill="#3862da"/>
<line x1="558.36" y1="254.2" x2="558.36" y2="341.4" stroke="#e9a3b9" stroke-width="0.9"/>
<rect x="557.06" y="265.2" width="2.6" height="54.30" fill="#cc215b"/>
<line x1="561.63" y1="312.8" x2="561.63" y2="341.4" stroke="#e9a3b9" stroke-width="0.9"/>
<rect x="560.33" y="319.4" width="2.6" height="16.30" fill="#cc215b"/>
<line x1="564.89" y1="334.5" x2="564.89" y2="350.8" stroke="#e9a3b9" stroke-width="0.9"/>
<rect x="563.59" y="335.0" width="2.6" height="12.70" fill="#cc215b"/>
<line x1="568.16" y1="327.3" x2="568.16" y2="384.9" stroke="#5a71b4" stroke-width="0.9"/>
<rect x="566.86" y="344.0" width="2.6" height="3.70" fill="#3862da"/>
<line x1="571.42" y1="343.5" x2="571.42" y2="357.0" stroke="#e9a3b9" stroke-width="0.9"/>
<rect x="570.12" y="344.0" width="2.6" height="7.40" fill="#cc215b"/>
<line x1="574.68" y1="351.0" x2="574.68" y2="353.0" stroke="#e9a3b9" stroke-width="0.9"/>
<rect x="573.38" y="351.4" width="2.6" height="1.00" fill="#cc215b"/>
<line x1="577.95" y1="338.3" x2="577.95" y2="356.0" stroke="#e9a3b9" stroke-width="0.9"/>
<rect x="576.65" y="351.9" width="2.6" height="1.60" fill="#cc215b"/>
<line x1="581.21" y1="352.0" x2="581.21" y2="357.0" stroke="#5a71b4" stroke-width="0.9"/>
<rect x="579.91" y="352.4" width="2.6" height="1.10" fill="#3862da"/>
<line x1="584.48" y1="352.5" x2="584.48" y2="360.0" stroke="#e9a3b9" stroke-width="0.9"/>
<rect x="583.18" y="353.0" width="2.6" height="3.00" fill="#cc215b"/>
<line x1="587.74" y1="335.0" x2="587.74" y2="356.0" stroke="#5a71b4" stroke-width="0.9"/>
<rect x="586.44" y="348.2" width="2.6" height="7.30" fill="#3862da"/>
<line x1="591.00" y1="346.6" x2="591.00" y2="357.0" stroke="#e9a3b9" stroke-width="0.9"/>
<rect x="589.70" y="348.2" width="2.6" height="5.30" fill="#cc215b"/>
<line x1="594.27" y1="353.0" x2="594.27" y2="360.0" stroke="#e9a3b9" stroke-width="0.9"/>
<rect x="592.97" y="353.5" width="2.6" height="6.20" fill="#cc215b"/>
<line x1="597.53" y1="349.3" x2="597.53" y2="360.2" stroke="#5a71b4" stroke-width="0.9"/>
<rect x="596.23" y="353.5" width="2.6" height="6.20" fill="#3862da"/>
<line x1="600.80" y1="353.0" x2="600.80" y2="359.7" stroke="#e9a3b9" stroke-width="0.9"/>
<rect x="599.50" y="353.5" width="2.6" height="5.70" fill="#cc215b"/>
<line x1="604.06" y1="355.0" x2="604.06" y2="360.8" stroke="#e9a3b9" stroke-width="0.9"/>
<rect x="602.76" y="359.2" width="2.6" height="1.10" fill="#cc215b"/>
<line x1="607.32" y1="281.9" x2="607.32" y2="361.3" stroke="#5a71b4" stroke-width="0.9"/>
<rect x="606.02" y="301.8" width="2.6" height="59.00" fill="#3862da"/>
<line x1="610.59" y1="301.3" x2="610.59" y2="331.0" stroke="#e9a3b9" stroke-width="0.9"/>
<rect x="609.29" y="301.8" width="2.6" height="26.50" fill="#cc215b"/>
<line x1="613.85" y1="275.0" x2="613.85" y2="332.5" stroke="#5a71b4" stroke-width="0.9"/>
<rect x="612.55" y="298.0" width="2.6" height="30.80" fill="#3862da"/>
<line x1="617.12" y1="273.5" x2="617.12" y2="449.0" stroke="#e9a3b9" stroke-width="0.9"/>
<rect x="615.82" y="298.0" width="2.6" height="75.40" fill="#cc215b"/>
<line x1="620.38" y1="353.0" x2="620.38" y2="375.0" stroke="#5a71b4" stroke-width="0.9"/>
<rect x="619.08" y="366.5" width="2.6" height="7.40" fill="#3862da"/>
<line x1="623.64" y1="357.0" x2="623.64" y2="369.7" stroke="#5a71b4" stroke-width="0.9"/>
<rect x="622.34" y="361.8" width="2.6" height="3.70" fill="#3862da"/>
<line x1="626.91" y1="351.0" x2="626.91" y2="368.8" stroke="#5a71b4" stroke-width="0.9"/>
<rect x="625.61" y="355.7" width="2.6" height="6.30" fill="#3862da"/>
<line x1="630.17" y1="355.7" x2="630.17" y2="374.5" stroke="#e9a3b9" stroke-width="0.9"/>
<rect x="628.87" y="356.2" width="2.6" height="9.50" fill="#cc215b"/>
<line x1="633.44" y1="365.7" x2="633.44" y2="379.2" stroke="#e9a3b9" stroke-width="0.9"/>
<rect x="632.14" y="366.2" width="2.6" height="12.50" fill="#cc215b"/>
<line x1="636.70" y1="378.8" x2="636.70" y2="392.3" stroke="#e9a3b9" stroke-width="0.9"/>
<rect x="635.40" y="379.3" width="2.6" height="12.50" fill="#cc215b"/>
<line x1="639.96" y1="380.8" x2="639.96" y2="401.2" stroke="#e9a3b9" stroke-width="0.9"/>
<rect x="638.66" y="391.8" width="2.6" height="8.90" fill="#cc215b"/>
<line x1="643.23" y1="394.5" x2="643.23" y2="403.9" stroke="#5a71b4" stroke-width="0.9"/>
<rect x="641.93" y="401.8" width="2.6" height="1.00" fill="#3862da"/>
<line x1="646.49" y1="397.6" x2="646.49" y2="405.9" stroke="#e9a3b9" stroke-width="0.9"/>
<rect x="645.19" y="400.7" width="2.6" height="4.70" fill="#cc215b"/>
<line x1="649.76" y1="399.7" x2="649.76" y2="409.1" stroke="#e9a3b9" stroke-width="0.9"/>
<rect x="648.46" y="405.4" width="2.6" height="3.20" fill="#cc215b"/>
<line x1="653.02" y1="408.1" x2="653.02" y2="412.5" stroke="#e9a3b9" stroke-width="0.9"/>
<rect x="651.72" y="408.6" width="2.6" height="1.00" fill="#cc215b"/>
<line x1="656.28" y1="404.9" x2="656.28" y2="410.1" stroke="#5a71b4" stroke-width="0.9"/>
<rect x="654.98" y="405.4" width="2.6" height="4.20" fill="#3862da"/>
<line x1="659.55" y1="395.0" x2="659.55" y2="407.3" stroke="#5a71b4" stroke-width="0.9"/>
<rect x="658.25" y="403.2" width="2.6" height="3.60" fill="#3862da"/>
<line x1="662.81" y1="402.7" x2="662.81" y2="408.8" stroke="#e9a3b9" stroke-width="0.9"/>
<rect x="661.51" y="403.2" width="2.6" height="5.10" fill="#cc215b"/>
<line x1="666.08" y1="408.3" x2="666.08" y2="410.8" stroke="#e9a3b9" stroke-width="0.9"/>
<rect x="664.78" y="408.8" width="2.6" height="1.50" fill="#cc215b"/>
<line x1="669.34" y1="409.8" x2="669.34" y2="417.9" stroke="#e9a3b9" stroke-width="0.9"/>
<rect x="668.04" y="410.3" width="2.6" height="7.10" fill="#cc215b"/>
<line x1="672.60" y1="416.9" x2="672.60" y2="423.2" stroke="#e9a3b9" stroke-width="0.9"/>
<rect x="671.30" y="417.4" width="2.6" height="5.30" fill="#cc215b"/>
<line x1="675.87" y1="416.2" x2="675.87" y2="423.2" stroke="#5a71b4" stroke-width="0.9"/>
<rect x="674.57" y="418.6" width="2.6" height="4.10" fill="#3862da"/>
<line x1="679.13" y1="416.3" x2="679.13" y2="422.5" stroke="#5a71b4" stroke-width="0.9"/>
<rect x="677.83" y="416.8" width="2.6" height="5.20" fill="#3862da"/>
<line x1="682.40" y1="403.8" x2="682.40" y2="417.3" stroke="#5a71b4" stroke-width="0.9"/>
<rect x="681.10" y="407.4" width="2.6" height="9.40" fill="#3862da"/>
<line x1="685.66" y1="399.2" x2="685.66" y2="407.9" stroke="#5a71b4" stroke-width="0.9"/>
<rect x="684.36" y="399.7" width="2.6" height="7.70" fill="#3862da"/>
<line x1="688.92" y1="378.7" x2="688.92" y2="399.1" stroke="#5a71b4" stroke-width="0.9"/>
<rect x="687.62" y="381.9" width="2.6" height="16.70" fill="#3862da"/>
<line x1="692.19" y1="353.6" x2="692.19" y2="385.0" stroke="#5a71b4" stroke-width="0.9"/>
<rect x="690.89" y="357.3" width="2.6" height="24.60" fill="#3862da"/>
<line x1="695.45" y1="349.4" x2="695.45" y2="361.5" stroke="#5a71b4" stroke-width="0.9"/>
<rect x="694.15" y="355.7" width="2.6" height="5.30" fill="#3862da"/>
<line x1="698.72" y1="340.0" x2="698.72" y2="356.7" stroke="#5a71b4" stroke-width="0.9"/>
<rect x="697.42" y="344.2" width="2.6" height="12.00" fill="#3862da"/>
<rect x="679.5" y="416.3" width="18.5" height="2.8" fill="#d9d9d6"/>
<rect x="680" y="419.1" width="18.5" height="4.6" fill="#f6dc55"/>
<rect x="671.2" y="423.3" width="9.8" height="4.2" fill="#fba21e"/>
<rect x="681" y="424.4" width="17" height="2.9" fill="#d9d9d6"/>
<rect x="798.5" y="261.1" width="43.9" height="80.5" fill="#fff8da"/>
<rect x="603.5" y="251.5" width="208.7" height="30" fill="#f9b5a8" fill-opacity="0.25" stroke="#eab871" stroke-width="1.3"/>
<line x1="64" y1="344" x2="967" y2="344" stroke="#a3a5ab" stroke-width="1.2" stroke-dasharray="1.5 1.3"/>
<g stroke="#4caf50" stroke-width="1.6" fill="none" stroke-linecap="round"><line x1="798.5" y1="261.1" x2="842.4" y2="261.1"/><line x1="798.5" y1="341.6" x2="842.4" y2="341.6"/><line x1="820.5" y1="261.1" x2="820.5" y2="341.6"/><polyline points="811,270.3 820.5,261.3 830,270.3"/></g>
<path d="M698.6,342.1 C699.6,336.2 702.6,310.9 704.4,306.8 C706.2,302.7 708.0,317.5 709.4,317.6 C710.8,317.7 711.9,309.3 713,307.6 C714.1,305.9 714.6,313.4 715.9,307.6 C717.2,301.8 719.0,277.7 720.9,273 C722.8,268.3 725.5,281.5 727.4,279.5 C729.3,277.5 731.0,263.5 732.4,261.2 C733.8,258.9 734.8,262.4 736,265.8 C737.2,269.2 738.3,273.8 739.6,281.7 C740.9,289.6 742.9,309.2 744,313.3 C745.1,317.4 744.8,303.3 746.1,306.1 C747.4,308.9 750.1,328.9 751.9,329.9 C753.7,330.9 755.3,313.1 756.9,311.9 C758.5,310.7 759.8,321.3 761.2,322.7 C762.6,324.1 764.3,319.7 765.5,320.5 C766.7,321.3 767.2,321.8 768.4,327.7 C769.6,333.6 772.0,351.1 772.7,355.8" fill="none" stroke="#e03a4e" stroke-width="1.8" stroke-linejoin="round" stroke-linecap="round"/>
<line x1="498.8" y1="128.9" x2="750.3" y2="432.1" stroke="#d02b64" stroke-width="1.8"/>
<path d="M712,409.6 L741,409.6 L747.4,402.8 L753.8,409.6 L782,409.6 Q785,409.6 785,412.6 L785,429.1 Q785,432.1 782,432.1 L712,432.1 Q709,432.1 709,429.1 L709,412.6 Q709,409.6 712,409.6 Z" fill="#2962ff"/>
<text x="717.6" y="424.6" font-size="11" fill="#1b3a8c" textLength="59" lengthAdjust="spacingAndGlyphs" stroke="#1b3a8c" stroke-width="0.25">POC: 3.645</text>
<line x1="730" y1="407.5" x2="750.3" y2="432.1" stroke="#c8306e" stroke-width="1.8"/>
<defs><filter id="sh" x="-10%" y="-30%" width="120%" height="160%"><feDropShadow dx="0" dy="1" stdDeviation="1.2" flood-color="#000" flood-opacity="0.12"/></filter></defs>
<rect x="753" y="229.3" width="134" height="22.7" rx="4" fill="#ffffff" filter="url(#sh)"/>
<text x="761.8" y="244.6" font-size="11.3" fill="#2a2e39" textLength="117.2" lengthAdjust="spacingAndGlyphs" stroke="#2a2e39" stroke-width="0.25">6.206 (74.87%) 6,206</text>
<path d="M706.4,522.4 A8.8,8.8 0 1 1 701.8,517.4" fill="none" stroke="#7e3fa6" stroke-width="1.3"/>
<path d="M701.2,520.2 L695.3,525.9 L698.6,525.9 L695.8,530.2 L702,524.3 L698.7,524.3 Z" fill="#7e3fa6"/>
<circle cx="704.3" cy="519.1" r="2.4" fill="#e0343e"/>
<text x="55.5" y="97.15" font-size="11.4" fill="#43464d" text-anchor="end" textLength="36.95" lengthAdjust="spacingAndGlyphs" stroke="#43464d" stroke-width="0.25">27.500</text>
<text x="55.5" y="129.6" font-size="11.4" fill="#43464d" text-anchor="end" textLength="36.95" lengthAdjust="spacingAndGlyphs" stroke="#43464d" stroke-width="0.25">25.000</text>
<text x="55.5" y="162.04999999999998" font-size="11.4" fill="#43464d" text-anchor="end" textLength="36.95" lengthAdjust="spacingAndGlyphs" stroke="#43464d" stroke-width="0.25">22.500</text>
<text x="55.5" y="194.49999999999997" font-size="11.4" fill="#43464d" text-anchor="end" textLength="36.95" lengthAdjust="spacingAndGlyphs" stroke="#43464d" stroke-width="0.25">20.000</text>
<text x="55.5" y="226.95" font-size="11.4" fill="#43464d" text-anchor="end" textLength="36.95" lengthAdjust="spacingAndGlyphs" stroke="#43464d" stroke-width="0.25">17.500</text>
<text x="55.5" y="259.4" font-size="11.4" fill="#43464d" text-anchor="end" textLength="36.95" lengthAdjust="spacingAndGlyphs" stroke="#43464d" stroke-width="0.25">15.000</text>
<text x="55.5" y="291.84999999999997" font-size="11.4" fill="#43464d" text-anchor="end" textLength="36.95" lengthAdjust="spacingAndGlyphs" stroke="#43464d" stroke-width="0.25">12.500</text>
<text x="55.5" y="324.29999999999995" font-size="11.4" fill="#43464d" text-anchor="end" textLength="36.95" lengthAdjust="spacingAndGlyphs" stroke="#43464d" stroke-width="0.25">10.000</text>
<text x="55.5" y="356.74999999999994" font-size="11.4" fill="#43464d" text-anchor="end" textLength="30.23" lengthAdjust="spacingAndGlyphs" stroke="#43464d" stroke-width="0.25">7.500</text>
<text x="55.5" y="389.19999999999993" font-size="11.4" fill="#43464d" text-anchor="end" textLength="30.23" lengthAdjust="spacingAndGlyphs" stroke="#43464d" stroke-width="0.25">5.000</text>
<text x="55.5" y="421.65" font-size="11.4" fill="#43464d" text-anchor="end" textLength="30.23" lengthAdjust="spacingAndGlyphs" stroke="#43464d" stroke-width="0.25">2.500</text>
<text x="55.5" y="454.09999999999997" font-size="11.4" fill="#43464d" text-anchor="end" textLength="30.23" lengthAdjust="spacingAndGlyphs" stroke="#43464d" stroke-width="0.25">0.000</text>
<text x="55.5" y="486.54999999999995" font-size="11.4" fill="#43464d" text-anchor="end" textLength="37.29" lengthAdjust="spacingAndGlyphs" stroke="#43464d" stroke-width="0.25">−2.500</text>
<text x="55.5" y="519.0" font-size="11.4" fill="#43464d" text-anchor="end" textLength="37.29" lengthAdjust="spacingAndGlyphs" stroke="#43464d" stroke-width="0.25">−5.000</text>
<rect x="13.7" y="61" width="45.9" height="21.1" rx="3" fill="#fefefc" stroke="#f3f3ef" stroke-width="1"/>
<text x="36.6" y="75.5" font-size="11.3" fill="#2a2e39" text-anchor="middle" stroke="#2a2e39" stroke-width="0.25">USDT</text>
<rect x="14.4" y="336" width="48.5" height="28.4" rx="2" fill="#2962ff"/>
<text x="55.4" y="347.9" font-size="11.4" fill="#ffffff" text-anchor="end" textLength="30" lengthAdjust="spacingAndGlyphs">8.138</text>
<text x="55.4" y="360.6" font-size="11.4" fill="#ffffff" text-anchor="end" textLength="36.3" lengthAdjust="spacingAndGlyphs">6d 17h</text>
<rect x="64.3" y="336" width="65.3" height="15.3" rx="2" fill="#2962ff"/>
<text x="68" y="347.7" font-size="11.3" fill="#ffffff" textLength="57.5" lengthAdjust="spacingAndGlyphs">DEXEUSDT</text>
<text x="72" y="42.9" font-size="11.2" fill="#2a2e39" textLength="73" lengthAdjust="spacingAndGlyphs" stroke="#2a2e39" stroke-width="0.25">RSI (14, close)</text>
<text x="152.1" y="42.9" font-size="11.2" fill="#9479d2" textLength="27.8" lengthAdjust="spacingAndGlyphs" stroke="#9479d2" stroke-width="0.25">64.19</text>
<text x="187.5" y="42.9" font-size="11.2" fill="#eddc72" textLength="28.5" lengthAdjust="spacingAndGlyphs" stroke="#eddc72" stroke-width="0.25">42.92</text>
<text x="72.3" y="73.6" font-size="11.2" fill="#2a2e39" textLength="161.2" lengthAdjust="spacingAndGlyphs" stroke="#2a2e39" stroke-width="0.25">DEXE / TetherUS · 1W · Binance</text>
<text x="240.3" y="73.6" font-size="11.2" fill="#2a2e39" stroke="#2a2e39" stroke-width="0.25">O</text>
<text x="247.4" y="73.6" font-size="11.2" fill="#4f78d9" textLength="27.4" lengthAdjust="spacingAndGlyphs" stroke="#4f78d9" stroke-width="0.25">7.165</text>
<text x="281.8" y="73.6" font-size="11.2" fill="#2a2e39" stroke="#2a2e39" stroke-width="0.25">H</text>
<text x="289.8" y="73.6" font-size="11.2" fill="#4f78d9" textLength="29" lengthAdjust="spacingAndGlyphs" stroke="#4f78d9" stroke-width="0.25">8.350</text>
<text x="326.6" y="73.6" font-size="11.2" fill="#2a2e39" stroke="#2a2e39" stroke-width="0.25">L</text>
<text x="332.1" y="73.6" font-size="11.2" fill="#4f78d9" textLength="26.6" lengthAdjust="spacingAndGlyphs" stroke="#4f78d9" stroke-width="0.25">7.134</text>
<text x="366.1" y="73.6" font-size="11.2" fill="#2a2e39" stroke="#2a2e39" stroke-width="0.25">C</text>
<text x="373.6" y="73.6" font-size="11.2" fill="#4f78d9" textLength="27.6" lengthAdjust="spacingAndGlyphs" stroke="#4f78d9" stroke-width="0.25">8.138</text>
<text x="408.8" y="73.6" font-size="11.2" fill="#4f78d9" textLength="91.5" lengthAdjust="spacingAndGlyphs" stroke="#4f78d9" stroke-width="0.25">+0.976 (+13.63%)</text>
<text x="72.3" y="89.7" font-size="11.2" fill="#2a2e39" textLength="531.2" lengthAdjust="spacingAndGlyphs" stroke="#2a2e39" stroke-width="0.25">Volume Profile Bar-Magnified Order Blocks [JacobMagleby] (7, 10, Close Engulfs 100% Of Order Block)</text>
<text x="72.3" y="105" font-size="11.2" fill="#2a2e39" textLength="226.4" lengthAdjust="spacingAndGlyphs" stroke="#2a2e39" stroke-width="0.25">Volume Profile / Fixed Range (150, 24, 70, 2)</text>
<text x="71.6" y="556.6" font-size="11.2" fill="#2a2e39" textLength="73" lengthAdjust="spacingAndGlyphs" stroke="#2a2e39" stroke-width="0.25">RSI (14, close)</text>
<text x="152" y="556.6" font-size="11.2" fill="#9c74cf" textLength="27.8" lengthAdjust="spacingAndGlyphs" stroke="#9c74cf" stroke-width="0.25">64.19</text>
<text x="187.4" y="556.6" font-size="11.2" fill="#e0ea70" textLength="28.5" lengthAdjust="spacingAndGlyphs" stroke="#e0ea70" stroke-width="0.25">42.92</text>
<text x="1006" y="576" font-size="11.3" fill="#2a2e39" text-anchor="end" textLength="30.6" lengthAdjust="spacingAndGlyphs" stroke="#2a2e39" stroke-width="0.25">80.00</text>
<text x="1006" y="616" font-size="11.3" fill="#2a2e39" text-anchor="end" textLength="30.6" lengthAdjust="spacingAndGlyphs" stroke="#2a2e39" stroke-width="0.25">60.00</text>
<text x="1006" y="656" font-size="11.3" fill="#2a2e39" text-anchor="end" textLength="30.6" lengthAdjust="spacingAndGlyphs" stroke="#2a2e39" stroke-width="0.25">40.00</text>
<rect x="968.1" y="595.6" width="42.7" height="15.2" rx="1.5" fill="#9c52d0"/>
<text x="1006" y="607.2" font-size="11.3" fill="#ffffff" text-anchor="end" textLength="30.6" lengthAdjust="spacingAndGlyphs">64.19</text>
<rect x="968.1" y="637.2" width="42.7" height="15.2" rx="1.5" fill="#e2f22a"/>
<text x="1006" y="648.8" font-size="11.3" fill="#131722" text-anchor="end" textLength="30.6" lengthAdjust="spacingAndGlyphs" stroke="#131722" stroke-width="0.25">42.92</text>
<text x="147.3" y="700.8" font-size="11.3" fill="#2a2e39" font-weight="700" text-anchor="middle" textLength="28.5" lengthAdjust="spacingAndGlyphs">2023</text>
<text x="232" y="700.8" font-size="11.3" fill="#2a2e39" text-anchor="middle" stroke="#2a2e39" stroke-width="0.25">Jul</text>
<text x="317" y="700.8" font-size="11.3" fill="#2a2e39" font-weight="700" text-anchor="middle" textLength="28.5" lengthAdjust="spacingAndGlyphs">2024</text>
<text x="401.5" y="700.8" font-size="11.3" fill="#2a2e39" text-anchor="middle" stroke="#2a2e39" stroke-width="0.25">Jul</text>
<text x="488" y="700.8" font-size="11.3" fill="#2a2e39" font-weight="700" text-anchor="middle" textLength="28.5" lengthAdjust="spacingAndGlyphs">2025</text>
<text x="573" y="700.8" font-size="11.3" fill="#2a2e39" text-anchor="middle" stroke="#2a2e39" stroke-width="0.25">Jul</text>
<text x="658" y="700.8" font-size="11.3" fill="#2a2e39" font-weight="700" text-anchor="middle" textLength="28.5" lengthAdjust="spacingAndGlyphs">2026</text>
<text x="744" y="700.8" font-size="11.3" fill="#2a2e39" text-anchor="middle" stroke="#2a2e39" stroke-width="0.25">Jul</text>
<text x="828" y="700.8" font-size="11.3" fill="#2a2e39" font-weight="700" text-anchor="middle" textLength="28.5" lengthAdjust="spacingAndGlyphs">2027</text>
<text x="914" y="700.8" font-size="11.3" fill="#2a2e39" text-anchor="middle" stroke="#2a2e39" stroke-width="0.25">Jul</text>
<circle cx="36.9" cy="696.2" r="8.2" fill="#f0f0ee"/>
<text x="36.9" y="700" font-size="10.5" fill="#6a6d78" text-anchor="middle" stroke="#6a6d78" stroke-width="0.25">Z</text>
<circle cx="990.5" cy="696.2" r="8.2" fill="#f0f0ee"/>
<text x="990.5" y="700" font-size="10.5" fill="#6a6d78" text-anchor="middle" stroke="#6a6d78" stroke-width="0.25">A</text>
<text x="9.6" y="18.5" font-size="11.7" fill="#131722" textLength="361" lengthAdjust="spacingAndGlyphs" stroke="#131722" stroke-width="0.25">ol_charles created with TradingView.com, Mar 30, 2026 09:26 UTC+2</text>
<g fill="#131722"><path d="M10.8,729.1 L22.4,729.1 L22.4,742.4 L16.6,742.4 L16.6,734.2 L10.8,734.2 Z"/><circle cx="26.5" cy="731.7" r="2.3"/><path d="M30.8,729.1 L38.2,729.1 L32.4,742.4 L25.2,742.4 Z"/></g>
<text x="45.4" y="742.4" font-size="18.4" fill="#131722" textLength="110" lengthAdjust="spacingAndGlyphs" stroke="#131722" stroke-width="0.55">TradingView</text>
</svg>
</body></html>
